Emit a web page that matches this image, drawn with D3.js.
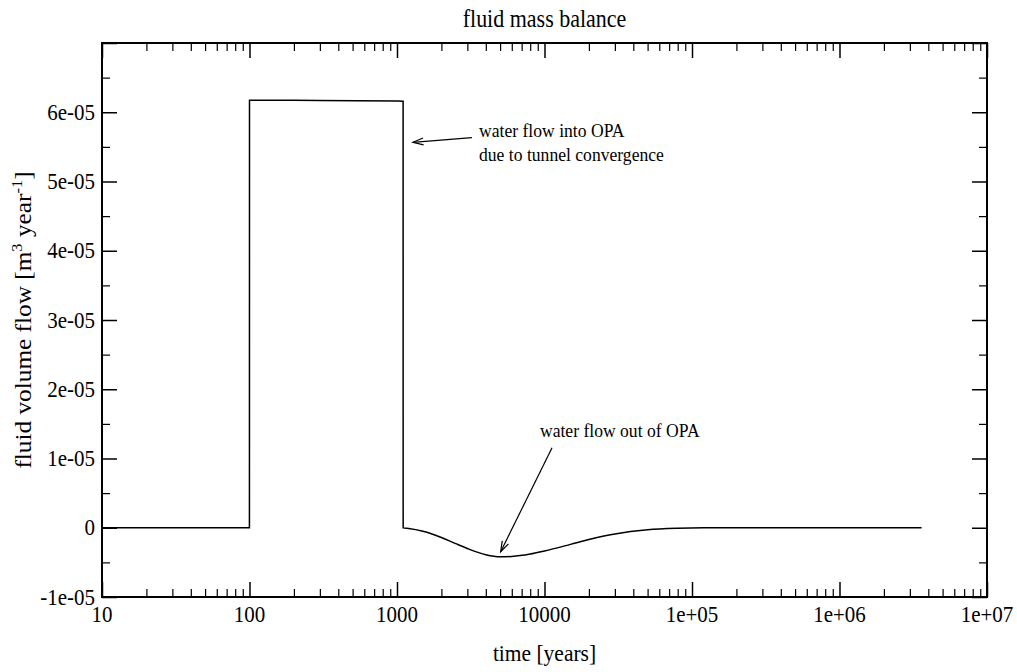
<!DOCTYPE html>
<html><head><meta charset="utf-8">
<script src="https://cdn.jsdelivr.net/npm/d3@7"></script>
<style>
body{margin:0;background:#fff}
svg{display:block}
text{font-family:"Liberation Serif","Times New Roman",Times,serif;fill:#000}
</style>
</head><body>
<svg id="chart" width="1017" height="672"></svg>
<script>
// ---- data ----
const time = [10, 99.9, 100, 300, 1000, 1100, 1101, 1200, 1500, 2000, 2500, 3000, 4000, 5000, 6000, 8000, 10000, 15000, 20000, 30000, 50000, 80000, 120000, 200000, 1e6, 3.6e6];
const flow = [0, 0, 6.175e-5, 6.17e-5, 6.162e-5, 6.16e-5, -0.02e-6, -0.1e-6, -0.5e-6, -1.4e-6, -2.3e-6, -3.0e-6, -3.9e-6, -4.2e-6, -4.15e-6, -3.8e-6, -3.35e-6, -2.4e-6, -1.7e-6, -0.9e-6, -0.3e-6, -0.08e-6, -0.01e-6, 0, 0, 0];
const xTickValues = [10, 100, 1000, 1e4, 1e5, 1e6, 1e7];
const xTickLabels = ["10", "100", "1000", "10000", "1e+05", "1e+06", "1e+07"];
const yTickValues = [-1e-5, 0, 1e-5, 2e-5, 3e-5, 4e-5, 5e-5, 6e-5];
const yTickLabels = ["-1e-05", "0", "1e-05", "2e-05", "3e-05", "4e-05", "5e-05", "6e-05"];
const annoText = [
  {t: 3597, v: 5.642e-5, s: "water flow into OPA"},
  {t: 3597, v: 5.296e-5, s: "due to tunnel convergence"},
  {t: 9310, v: 1.311e-5, s: "water flow out of OPA"}
];
const annoArrows = [
  {t0: 3220, v0: 5.633e-5, t1: 1282, v1: 5.566e-5},
  {t0: 11250, v0: 1.156e-5, t1: 5047, v1: -3.46e-6}
];

// ---- layout ----
const L = 102, R = 987, T = 43, B = 597;
const SY = 1.1; // vertical text stretch
const svg = d3.select("#chart");
const x = d3.scaleLog().domain([10, 1e7]).range([L, R]);
const y = d3.scaleLinear().domain([-1e-5, 7e-5]).range([B, T]);

const xMinor = [];
for (let d = 10; d < 1e7; d *= 10) for (let k = 2; k <= 9; k++) xMinor.push(d * k);
const yMinor = d3.range(-0.5e-5, 7e-5, 1e-5);
const yMajorAll = yTickValues.concat([7e-5]);

function axisStyle(g, w) {
  g.select(".domain").remove();
  g.selectAll(".tick line").attr("stroke", "#000").attr("stroke-width", w);
  g.selectAll(".tick text").remove();
}
// bottom / top
svg.append("g").attr("transform", `translate(0,${B})`)
  .call(d3.axisBottom(x).tickValues(xTickValues).tickSize(-15).tickFormat("")).call(axisStyle, 1.5);
svg.append("g").attr("transform", `translate(0,${B})`)
  .call(d3.axisBottom(x).tickValues(xMinor).tickSize(-8).tickFormat("")).call(axisStyle, 1.2);
svg.append("g").attr("transform", `translate(0,${T})`)
  .call(d3.axisTop(x).tickValues(xTickValues).tickSize(-15).tickFormat("")).call(axisStyle, 1.5);
svg.append("g").attr("transform", `translate(0,${T})`)
  .call(d3.axisTop(x).tickValues(xMinor).tickSize(-8).tickFormat("")).call(axisStyle, 1.2);
// left / right
svg.append("g").attr("transform", `translate(${L},0)`)
  .call(d3.axisLeft(y).tickValues(yMajorAll).tickSize(-15).tickFormat("")).call(axisStyle, 1.5);
svg.append("g").attr("transform", `translate(${L},0)`)
  .call(d3.axisLeft(y).tickValues(yMinor).tickSize(-8).tickFormat("")).call(axisStyle, 1.2);
svg.append("g").attr("transform", `translate(${R},0)`)
  .call(d3.axisRight(y).tickValues(yMajorAll).tickSize(-15).tickFormat("")).call(axisStyle, 1.5);
svg.append("g").attr("transform", `translate(${R},0)`)
  .call(d3.axisRight(y).tickValues(yMinor).tickSize(-8).tickFormat("")).call(axisStyle, 1.2);

// frame
svg.append("rect").attr("x", L).attr("y", T).attr("width", R - L).attr("height", B - T)
  .attr("fill", "none").attr("stroke", "#000").attr("stroke-width", 2);

function txt(px, py, s, size, anchor) {
  return svg.append("text").attr("transform", `translate(${px},${py}) scale(1,${SY})`)
    .attr("text-anchor", anchor).attr("font-size", size).text(s);
}
// tick labels
xTickValues.forEach((v, i) => txt(x(v), 622, xTickLabels[i], 21, "middle"));
yTickValues.forEach((v, i) => txt(95, y(v) + 7.5, yTickLabels[i], 21, "end"));

// title & axis labels
txt((L + R) / 2, 27, "fluid mass balance", 22, "middle");
txt((L + R) / 2, 661, "time [years]", 21.5, "middle");
const yl = svg.append("text").attr("transform", `translate(31,${(T + B) / 2}) scale(1,${SY}) rotate(-90)`)
  .attr("text-anchor", "middle").attr("font-size", 23);
yl.append("tspan").text("fluid volume flow [m");
yl.append("tspan").attr("font-size", 15).attr("dy", -9).text("3");
yl.append("tspan").attr("dy", 9).text(" year");
yl.append("tspan").attr("font-size", 15).attr("dy", -9).text("-1");
yl.append("tspan").attr("dy", 9).text("]");

// curve
const pts = time.map((t, i) => [t, flow[i]]);
svg.append("path").datum(pts)
  .attr("fill", "none").attr("stroke", "#000").attr("stroke-width", 1.5)
  .attr("d", d3.line().x(d => x(d[0])).y(d => y(d[1])).curve(d3.curveMonotoneX));

// annotations
annoText.forEach(a => txt(x(a.t), y(a.v), a.s, 17.6, "start"));
annoArrows.forEach(a => {
  const x0 = x(a.t0), y0 = y(a.v0), x1 = x(a.t1), y1 = y(a.v1);
  svg.append("line").attr("x1", x0).attr("y1", y0).attr("x2", x1).attr("y2", y1)
    .attr("stroke", "#000").attr("stroke-width", 1.2);
  const ang = Math.atan2(y0 - y1, x0 - x1), len = 11, spread = 0.32;
  const p1 = [x1 + len * Math.cos(ang + spread), y1 + len * Math.sin(ang + spread)];
  const p2 = [x1 + len * Math.cos(ang - spread), y1 + len * Math.sin(ang - spread)];
  svg.append("path").attr("d", `M${p1}L${x1},${y1}L${p2}`)
    .attr("fill", "none").attr("stroke", "#000").attr("stroke-width", 1.2);
});
</script>
</body></html>
